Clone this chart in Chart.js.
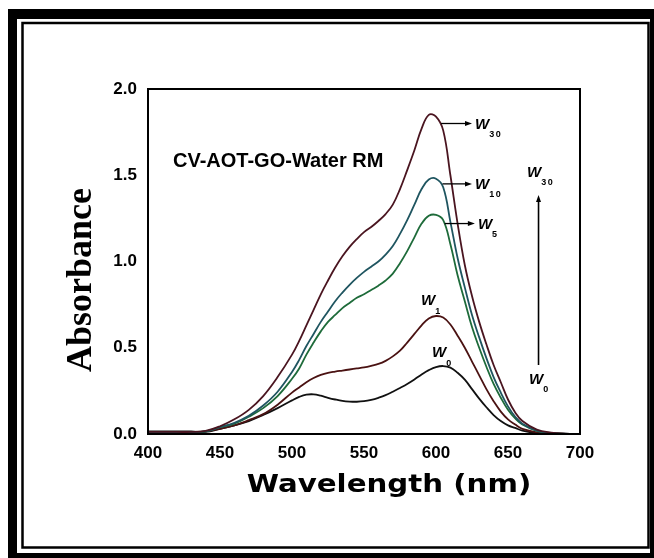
<!DOCTYPE html>
<html>
<head>
<meta charset="utf-8">
<script src="https://cdn.jsdelivr.net/npm/chart.js@4.4.1/dist/chart.umd.min.js"></script>
<style>
  html, body { margin: 0; padding: 0; background: #fff; }
  #wrap { width: 654px; height: 558px; }
</style>
</head>
<body>
<div id="wrap"><canvas id="chart" width="654" height="558"></canvas></div>
<script>
// wavelength grid (nm) and absorbance
const wavelengths = [400, 410, 420, 430, 440, 450, 460, 470, 480, 490, 500, 505, 510, 515, 520, 525, 530, 535, 540, 545, 550, 555, 560, 565, 570, 575, 580, 585, 590, 595, 600, 605, 610, 615, 620, 625, 630, 635, 640, 645, 650, 655, 660, 670, 680, 690, 700];

const absW30 = [0.012, 0.012, 0.012, 0.012, 0.018, 0.045, 0.085, 0.14, 0.22, 0.33, 0.46, 0.54, 0.63, 0.72, 0.81, 0.89, 0.965, 1.03, 1.085, 1.13, 1.17, 1.2, 1.235, 1.275, 1.33, 1.42, 1.53, 1.645, 1.77, 1.85, 1.84, 1.76, 1.5, 1.22, 0.98, 0.8, 0.65, 0.52, 0.4, 0.3, 0.2, 0.125, 0.075, 0.025, 0.008, 0.002, 0];
const absW10 = [0.01, 0.01, 0.01, 0.01, 0.015, 0.04, 0.065, 0.105, 0.165, 0.245, 0.36, 0.43, 0.51, 0.58, 0.65, 0.71, 0.77, 0.82, 0.865, 0.905, 0.94, 0.97, 1.0, 1.04, 1.09, 1.16, 1.24, 1.33, 1.42, 1.475, 1.48, 1.43, 1.23, 1.02, 0.85, 0.69, 0.56, 0.44, 0.33, 0.24, 0.16, 0.1, 0.06, 0.02, 0.006, 0.002, 0];
const absW5 = [0.01, 0.01, 0.01, 0.01, 0.015, 0.04, 0.06, 0.1, 0.15, 0.22, 0.32, 0.38, 0.46, 0.53, 0.595, 0.65, 0.69, 0.73, 0.76, 0.79, 0.81, 0.835, 0.86, 0.89, 0.93, 0.99, 1.06, 1.14, 1.22, 1.265, 1.27, 1.24, 1.1, 0.92, 0.77, 0.62, 0.5, 0.39, 0.29, 0.21, 0.14, 0.09, 0.055, 0.018, 0.005, 0.001, 0];
const absW1 = [0.012, 0.012, 0.012, 0.012, 0.015, 0.03, 0.05, 0.08, 0.115, 0.17, 0.24, 0.27, 0.3, 0.325, 0.343, 0.355, 0.362, 0.368, 0.374, 0.38, 0.386, 0.395, 0.406, 0.424, 0.45, 0.483, 0.53, 0.58, 0.63, 0.67, 0.684, 0.675, 0.635, 0.57, 0.5, 0.42, 0.34, 0.26, 0.19, 0.13, 0.085, 0.055, 0.03, 0.01, 0.003, 0, 0];
const absW0 = [0.015, 0.015, 0.015, 0.015, 0.012, 0.03, 0.05, 0.075, 0.11, 0.15, 0.195, 0.215, 0.228, 0.23, 0.222, 0.21, 0.2, 0.192, 0.188, 0.187, 0.19, 0.198, 0.21, 0.225, 0.245, 0.267, 0.29, 0.316, 0.345, 0.37, 0.388, 0.394, 0.385, 0.355, 0.315, 0.26, 0.205, 0.155, 0.11, 0.075, 0.05, 0.035, 0.02, 0.006, 0.002, 0, 0];

const seriesNames = ['W30', 'W10', 'W5', 'W1', 'W0'];
const seriesColors = ['#4a1520', '#1f5560', '#1e6b3a', '#4a1212', '#111111'];
const seriesValues = [absW30, absW10, absW5, absW1, absW0];

const xTickStep = 50;
const yTickStep = 0.5;

const FONT = '"Liberation Sans", Arial, sans-serif';

const toPoints = vals => wavelengths.map((w, i) => ({ x: w, y: vals[i] }));

// draws an italic W with a small subscript
function wLabel(ctx, x, y, sub) {
  ctx.save();
  ctx.fillStyle = '#000';
  ctx.textAlign = 'left';
  ctx.textBaseline = 'alphabetic';
  ctx.font = 'italic bold 15px ' + FONT;
  ctx.fillText('W', x, y);
  const w = ctx.measureText('W').width;
  ctx.font = 'bold 9px ' + FONT;
  ctx.letterSpacing = '1.5px';
  ctx.fillText(sub, x + w, y + 8.5);
  ctx.restore();
}

function arrowRight(ctx, x1, x2, y) {
  ctx.beginPath();
  ctx.moveTo(x1, y);
  ctx.lineTo(x2 - 5, y);
  ctx.stroke();
  ctx.beginPath();
  ctx.moveTo(x2, y);
  ctx.lineTo(x2 - 7, y - 2.5);
  ctx.lineTo(x2 - 7, y + 2.5);
  ctx.closePath();
  ctx.fill();
}

const decor = {
  id: 'decor',
  beforeDraw(chart) {
    const ctx = chart.ctx;
    ctx.save();
    ctx.fillStyle = '#fff';
    ctx.fillRect(0, 0, 654, 558);
    // double frame
    ctx.fillStyle = '#000';
    ctx.fillRect(8, 9, 660, 560);
    ctx.fillStyle = '#fff';
    ctx.fillRect(17, 19, 633, 534);
    ctx.strokeStyle = '#000';
    ctx.lineWidth = 2.5;
    ctx.strokeRect(22.5, 23, 626, 524.5);
    ctx.restore();
  },
  afterDraw(chart) {
    const ctx = chart.ctx;
    const a = chart.chartArea;
    const xs = chart.scales.x, ys = chart.scales.y;
    ctx.save();
    ctx.strokeStyle = '#000';
    ctx.fillStyle = '#000';
    ctx.lineWidth = 2;
    ctx.strokeRect(a.left, a.top, a.right - a.left, a.bottom - a.top);

    // axis titles
    ctx.font = 'bold 36px "Liberation Serif", "Times New Roman", serif';
    ctx.textAlign = 'center';
    ctx.textBaseline = 'alphabetic';
    ctx.save();
    ctx.translate(91, 280);
    ctx.rotate(-Math.PI / 2);
    ctx.fillText('Absorbance', 0, 0);
    ctx.restore();

    ctx.save();
    ctx.font = 'bold 25px "DejaVu Sans", sans-serif';
    ctx.translate(389, 492);
    ctx.scale(1.17, 1);
    ctx.fillText('Wavelength (nm)', 0, 0);
    ctx.restore();

    ctx.font = 'bold 20px ' + FONT;
    ctx.textAlign = 'left';
    ctx.fillText('CV-AOT-GO-Water RM', 173, 167);

    // arrows from peaks to labels
    ctx.lineWidth = 1.3;
    const peakArrows = [
      { sub: '30', y: 1.80, from: 603.5, to: 625 },
      { sub: '10', y: 1.45, from: 604.5, to: 625 },
      { sub: '5', y: 1.22, from: 606, to: 627 }
    ];
    peakArrows.forEach(p => {
      const py = ys.getPixelForValue(p.y);
      const x2 = xs.getPixelForValue(p.to);
      arrowRight(ctx, xs.getPixelForValue(p.from), x2, py);
      wLabel(ctx, x2 + 3, py + 5, p.sub);
    });
    wLabel(ctx, xs.getPixelForValue(589.6), ys.getPixelForValue(0.745), '1');
    wLabel(ctx, xs.getPixelForValue(597.2), ys.getPixelForValue(0.446), '0');

    // vertical arrow W0 -> W30
    const vx = xs.getPixelForValue(671.2);
    const vy1 = ys.getPixelForValue(0.4), vy2 = ys.getPixelForValue(1.386);
    ctx.lineWidth = 1.6;
    ctx.beginPath();
    ctx.moveTo(vx, vy1);
    ctx.lineTo(vx, vy2 + 5);
    ctx.stroke();
    ctx.beginPath();
    ctx.moveTo(vx, vy2);
    ctx.lineTo(vx - 2.5, vy2 + 7);
    ctx.lineTo(vx + 2.5, vy2 + 7);
    ctx.closePath();
    ctx.fill();
    wLabel(ctx, xs.getPixelForValue(663.2), ys.getPixelForValue(1.49), '30');
    wLabel(ctx, xs.getPixelForValue(664.6), ys.getPixelForValue(0.29), '0');
    ctx.restore();
  }
};

new Chart(document.getElementById('chart'), {
  type: 'line',
  data: {
    datasets: seriesNames.map((name, i) => ({
      label: name,
      data: toPoints(seriesValues[i]),
      borderColor: seriesColors[i],
      borderWidth: 1.8,
      pointRadius: 0,
      fill: false,
      tension: 0.4
    }))
  },
  options: {
    responsive: false,
    animation: false,
    layout: { padding: { left: 0, right: 74, top: 89, bottom: 0 } },
    plugins: { legend: { display: false }, tooltip: { enabled: false } },
    scales: {
      x: {
        type: 'linear',
        min: 400,
        max: 700,
        grid: { display: false, drawTicks: false },
        border: { display: false },
        ticks: { stepSize: xTickStep, color: '#000', padding: 9, maxRotation: 0, font: { family: FONT, size: 17, weight: 'bold' } },
        afterFit: s => { s.height = 124; }
      },
      y: {
        min: 0,
        max: 2,
        grid: { display: false, drawTicks: false },
        border: { display: false },
        ticks: { stepSize: yTickStep, color: '#000', padding: 11, font: { family: FONT, size: 17, weight: 'bold' }, callback: v => v.toFixed(1) },
        afterFit: s => { s.width = 148; }
      }
    }
  },
  plugins: [decor]
});
</script>
</body>
</html>
